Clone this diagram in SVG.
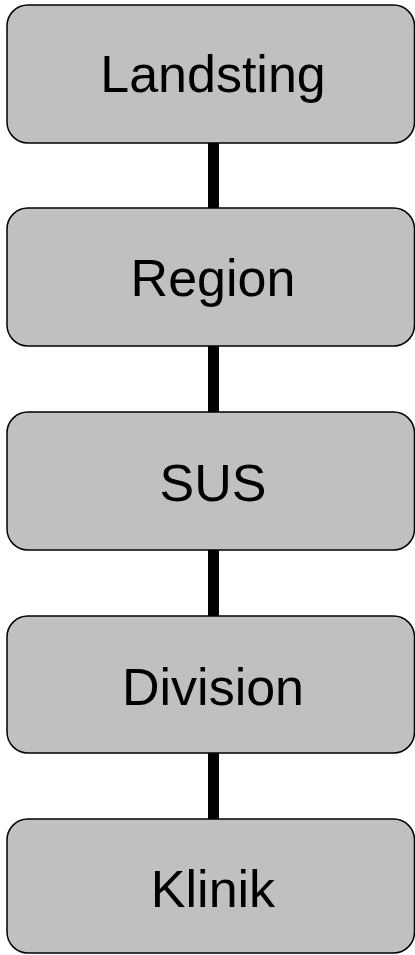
<svg xmlns="http://www.w3.org/2000/svg" width="415" height="955" viewBox="0 0 415 955">
<style>
.box{fill:#c0c0c0;stroke:#000;stroke-width:1.5}
.lbl{font-family:"Liberation Sans",Arial,sans-serif;font-size:52px;fill:#000;text-anchor:middle}
.conn{stroke:#000;stroke-width:11;fill:none}
</style>
<rect width="415" height="955" fill="#fff"/>
<g id="connectors">
<line class="conn" x1="213.5" y1="143" x2="213.5" y2="208"/>
<line class="conn" x1="213.5" y1="346" x2="213.5" y2="412"/>
<line class="conn" x1="213.5" y1="550" x2="213.5" y2="616"/>
<line class="conn" x1="213.5" y1="753" x2="213.5" y2="819"/>
</g>
<g id="landsting"><rect class="box" x="7" y="5" width="407.5" height="138" rx="21"/><text class="lbl" x="213" y="92">Landsting</text></g>
<g id="region"><rect class="box" x="7" y="208" width="407.5" height="138" rx="21"/><text class="lbl" x="213" y="296">Region</text></g>
<g id="sus"><rect class="box" x="7" y="412" width="407.5" height="138" rx="21"/><text class="lbl" x="213" y="501">SUS</text></g>
<g id="division"><rect class="box" x="7" y="616" width="407.5" height="137" rx="21"/><text class="lbl" x="213" y="705">Division</text></g>
<g id="klinik"><rect class="box" x="7" y="819" width="407.5" height="134" rx="21"/><text class="lbl" x="213" y="907">Klinik</text></g>
</svg>
